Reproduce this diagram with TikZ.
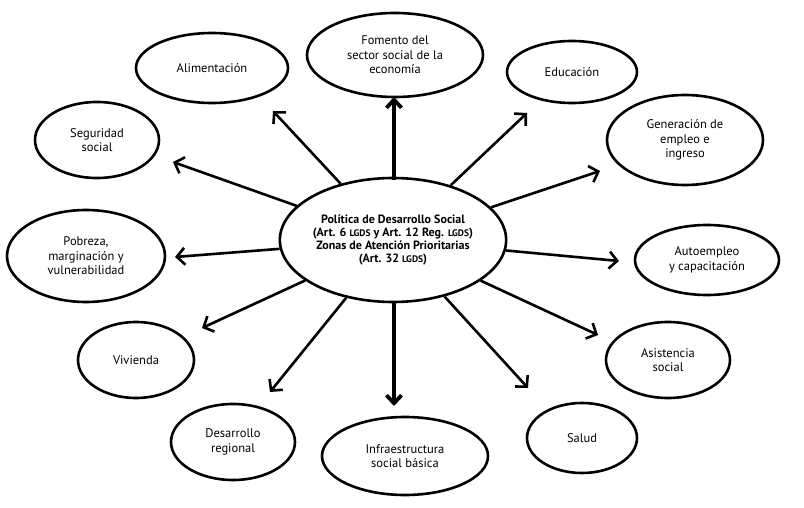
\documentclass[tikz,border=0pt]{standalone}
\usepackage{fontspec}
\setmainfont{PT Sans}
\usetikzlibrary{shapes.geometric,arrows.meta}
\tikzset{
  topic/.style={ellipse,draw,line width=2.6pt,inner sep=0pt,align=center,
    font=\fontsize{12.5}{14.5}\selectfont},
  arr/.style={line width=2.6pt,-{Straight Barb[length=8pt,width=17pt]}},
  thick arr/.style={line width=3.8pt,-{Straight Barb[length=8pt,width=15pt]}},
}
\newcommand{\lgds}{{\fontsize{9.5}{11}\selectfont LGDS}}
\begin{document}
\begin{tikzpicture}[x=1pt,y=-1pt]
\useasboundingbox (0,0) rectangle (804,508);
\node[topic,minimum width=214pt,minimum height=124pt,
  font=\fontsize{12}{13}\selectfont\bfseries] (c) at (393,240)
  {Política de Desarrollo Social\\(Art. 6 \lgds{} y Art. 12 Reg. \lgds)\\Zonas de Atención Prioritarias\\(Art. 32 \lgds)};
\node[topic,minimum width=152pt,minimum height=70pt] (ali) at (212,68) {Alimentación};
\node[topic,minimum width=124pt,minimum height=76pt] (seg) at (97,140) {Seguridad\\social};
\node[topic,minimum width=176pt,minimum height=84pt] (fom) at (395,55) {Fomento del\\sector social de la\\economía};
\node[topic,minimum width=130pt,minimum height=62pt] (edu) at (572,72) {Educación};
\node[topic,minimum width=156pt,minimum height=90pt] (gen) at (685,140) {Generación de\\empleo e\\ingreso};
\node[topic,minimum width=144pt,minimum height=70pt] (aut) at (707,260) {Autoempleo\\y capacitación};
\node[topic,minimum width=124pt,minimum height=76pt] (asi) at (668,360) {Asistencia\\social};
\node[topic,minimum width=110pt,minimum height=70pt] (sal) at (582,438) {Salud};
\node[topic,minimum width=166pt,minimum height=78pt] (inf) at (405,456) {Infraestructura\\social básica};
\node[topic,minimum width=124pt,minimum height=76pt] (des) at (233,442) {Desarrollo\\regional};
\node[topic,minimum width=116pt,minimum height=76pt] (viv) at (136,360) {Vivienda};
\node[topic,minimum width=158pt,minimum height=92pt] (pob) at (86,256) {Pobreza,\\marginación y\\vulnerabilidad};
% arrow tips
\coordinate (tali) at (273,111);
\coordinate (tseg) at (173,162);
\coordinate (tedu) at (527,113);
\coordinate (tgen) at (600,171);
\coordinate (taut) at (619,261);
\coordinate (tasi) at (598,335);
\coordinate (tsal) at (528,388);
\coordinate (tdes) at (270,392);
\coordinate (tviv) at (202,328);
\coordinate (tpob) at (175,257);
\coordinate (tfom) at (394,97);
\coordinate (tinf) at (394,406);
\coordinate (sfom) at (394,180);
\coordinate (sinf) at (394,302);
\draw[thick arr] (sfom) -- (tfom);
\draw[thick arr] (sinf) -- (tinf);
\foreach \t in {tali,tseg,tedu,tgen,taut,tasi,tsal,tdes,tviv,tpob}
  \draw[arr] (c) -- (\t);
\end{tikzpicture}
\end{document}
